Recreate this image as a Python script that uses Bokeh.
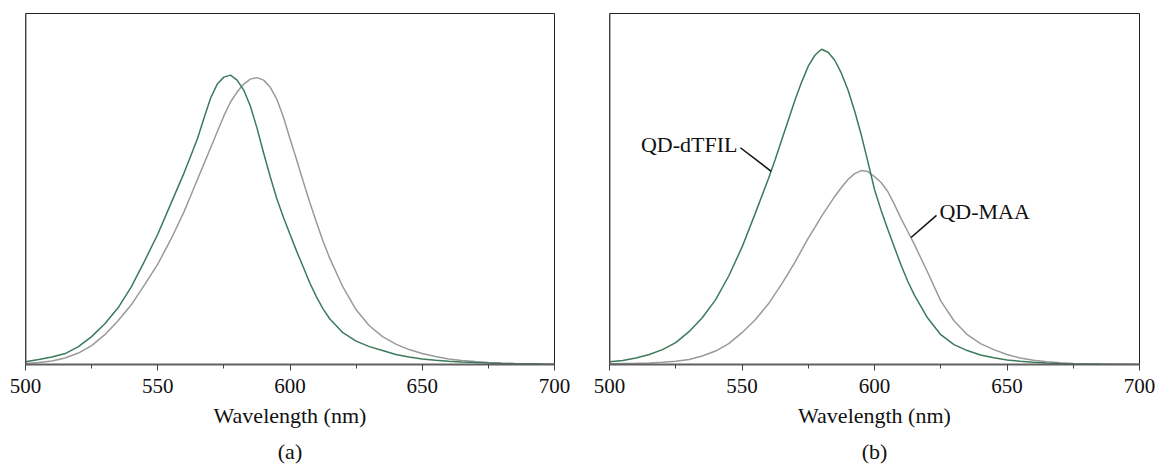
from bokeh.plotting import figure
from bokeh.models import Range1d, SingleIntervalTicker, Span, Title, Label, ColumnDataSource
from bokeh.layouts import row
from bokeh.embed import file_html
from bokeh.resources import INLINE

# ---- data (intensity in arbitrary units) ----
wavelength = [500, 505, 510, 515, 520, 525, 530, 535, 540, 545, 550, 555, 560,
              562.5, 565, 567.5, 570, 572.5, 575, 577.5, 580, 582.5, 585, 587.5, 590,
              592.5, 595, 597.5, 600, 602.5, 605, 607.5, 610, 612.5,
              615, 620, 625, 630, 635, 640, 645, 650, 655, 660, 665, 670, 675, 680,
              685, 690, 695, 700]

a_dtfil = [2.7, 5, 7.5, 11, 18, 28, 41, 57, 78, 104, 131, 162, 193,
           210, 227, 248, 268, 282, 289, 291, 286, 276, 260, 238, 213,
           189, 167, 148, 131, 114, 98, 82, 68, 56,
           46, 32, 23.5, 18, 14, 10, 7.6, 5.5, 4.3, 3.2, 2.5, 1.9, 1.4, 1.0,
           0.8, 0.6, 0.4, 0.3]

a_maa = [1, 2, 3.5, 6.5, 11.5, 19, 30, 44, 60, 80, 101, 126, 154,
         170, 186, 202, 218, 234, 250, 264, 274, 282, 287, 288.5, 286,
         279, 267, 249, 227, 206, 184, 163, 143, 124,
         107, 78, 55, 39, 28, 20.5, 15, 11, 8, 5.5, 4, 3, 2.1, 1.5,
         1.1, 0.8, 0.5, 0.3]

b_dtfil = [2.7, 4, 6.5, 10, 15, 22, 33, 47, 65, 89, 118, 152, 187,
           206, 226, 246, 266, 284, 300, 311, 317, 314, 306, 293, 276,
           255, 231, 204, 176, 155, 136, 118, 100, 84,
           70, 47, 30, 20, 14, 9.5, 6.8, 4.5, 3.2, 2.2, 1.5, 0.9, 0.5, 0.3,
           0.2, 0.1, 0.1, 0]

b_maa = [0.8, 1, 1.2, 1.6, 2.2, 3.2, 5, 8.5, 13.5, 21, 32, 45, 61,
         71, 81, 92, 103, 115, 127, 138, 149, 159, 169, 178, 186,
         192, 195, 194, 189, 183, 174, 161, 147, 134,
         121, 93, 64, 44, 30, 21, 15, 10, 6.5, 4.2, 2.8, 1.8, 1.1, 0.7,
         0.4, 0.3, 0.2, 0.1]

x_axis_title = "Wavelength (nm)"
panel_captions = ["(a)", "(b)"]
series_names = ["QD-dTFIL", "QD-MAA"]

GREEN = "#3c7a5c"
GREY = "#9a9a9a"
FONT = "Liberation Serif"


def make_panel(dtfil, maa, caption, width, left, right):
    p = figure(width=width, height=470, output_backend="svg", toolbar_location=None,
               x_range=Range1d(500, 700), y_range=Range1d(0, 353),
               min_border_left=left, min_border_right=right,
               min_border_top=13, min_border_bottom=104)
    p.grid.visible = False
    p.yaxis.visible = False
    p.outline_line_color = "#222222"
    p.outline_line_width = 1
    p.background_fill_color = "white"
    p.border_fill_color = "white"

    ax = p.xaxis[0]
    ax.ticker = SingleIntervalTicker(interval=50, num_minor_ticks=2)
    ax.axis_line_color = "#606060"
    ax.axis_line_width = 2
    ax.major_tick_line_color = "#404040"
    ax.minor_tick_line_color = "#404040"
    ax.major_tick_in = 0
    ax.major_tick_out = 6
    ax.minor_tick_in = 0
    ax.minor_tick_out = 4
    ax.major_label_text_font = FONT
    ax.major_label_text_font_size = "21px"
    ax.major_label_text_color = "#111111"
    ax.major_label_standoff = 8
    ax.axis_label = x_axis_title
    ax.axis_label_text_font = FONT
    ax.axis_label_text_font_size = "22px"
    ax.axis_label_text_font_style = "normal"
    ax.axis_label_text_color = "#111111"
    ax.axis_label_standoff = 7

    p.add_layout(Span(location=500, dimension="height", line_color="#606060", line_width=2))

    p.line(wavelength, maa, line_color=GREY, line_width=1.5)
    p.line(wavelength, dtfil, line_color=GREEN, line_width=1.5)

    t = Title(text=caption, align="center", text_font=FONT, text_font_size="22px",
              text_font_style="normal", text_color="#111111", standoff=13)
    p.add_layout(t, "below")
    return p


pa = make_panel(a_dtfil, a_maa, panel_captions[0], 580, 25, 26)
pb = make_panel(b_dtfil, b_maa, panel_captions[1], 577, 29, 18)

# annotations for panel (b)
pb.add_layout(Label(x=548.3, y=221, text=series_names[0], text_font=FONT,
                    text_font_size="22px", text_align="right", text_baseline="alphabetic",
                    text_color="#111111"))
pb.add_layout(Label(x=624.5, y=154, text=series_names[1], text_font=FONT,
                    text_font_size="22px", text_align="left", text_baseline="alphabetic",
                    text_color="#111111"))
lead = ColumnDataSource(dict(x0=[549.4, 623.4], y0=[218, 150], x1=[561, 613.8], y1=[194.3, 127.7]))
pb.segment(x0="x0", y0="y0", x1="x1", y1="y1", source=lead, line_color="#111111", line_width=1.5)

layout = row(pa, pb)
open("out.html", "w").write(file_html(layout, INLINE))
